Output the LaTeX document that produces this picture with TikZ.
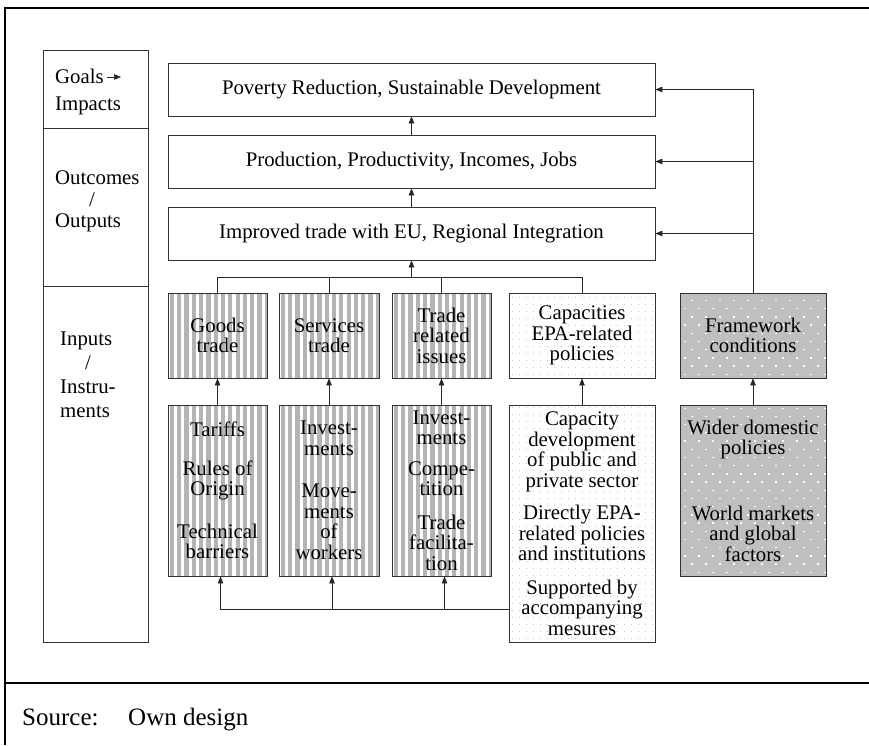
\documentclass[tikz,border=0pt]{standalone}
\usepackage{fontspec}
\setmainfont{Liberation Serif}
\usetikzlibrary{arrows.meta}

\definecolor{stripegray}{HTML}{B4B4B4}
\definecolor{framegray}{HTML}{BFBFBF}

\begin{document}
\begin{tikzpicture}[
    x=1pt, y=-1pt,
    font=\fontsize{20.8}{20.5}\selectfont,
    box/.style={
        rectangle,
        draw=black!80,
        line width=0.8pt,
        inner sep=0pt,
        align=center
    },
    level/.style={box, minimum width=487pt, minimum height=53pt},
    stripes/.style={
        path picture={
            \foreach \k in {0,...,20}
                \fill[stripegray] ([xshift=\k*7.3pt+1.8pt]path picture bounding box.south west) rectangle ++(4.2pt,400pt);
        }
    },
    lightdots/.style={
        path picture={
            \foreach \i in {0,...,21}
                \foreach \j in {0,...,34}
                    \fill[black!22] ([shift={(\i*7pt+3pt,\j*7pt+3pt)}]path picture bounding box.south west) rectangle ++(1pt,1pt);
        }
    },
    griddots/.style={
        fill=framegray,
        path picture={
            \foreach \j [evaluate=\j as \off using {mod(\j,2)*7}] in {0,...,21}
                \foreach \i in {0,...,11}
                    \fill[white] ([shift={(\i*14pt+\off pt+4pt,\j*8.2pt+3pt)}]path picture bounding box.south west) rectangle ++(1.5pt,1.5pt);
        }
    },
    label/.style={anchor=north west, align=left, inner sep=0pt},
    link/.style={draw=black!85, line width=0.7pt},
    arrow/.style={link, -{Triangle[length=7pt,width=5.5pt]}},
    frame/.style={line width=2.6pt},
    note/.style={anchor=base west, inner sep=0pt, font=\fontsize{25}{25}\selectfont}
]
\useasboundingbox (0,0) rectangle (869,745);

% outer frame
\draw[frame] (5,745) -- (5,8) -- (869,8);
\draw[frame] (5,683) -- (869,683);

% left column
\node[box, minimum width=105pt, minimum height=78pt] (goalsbox) at (95.5,89) {};
\node[box, minimum width=105pt, minimum height=158pt] (outcomesbox) at (95.5,207) {};
\node[box, minimum width=105pt, minimum height=356pt] (inputsbox) at (95.5,464) {};

\node[label] (goalslbl) at (55,69) {Goals\\[6.5pt]Impacts};
\coordinate (goalstip) at (107,77);
\draw[arrow] (goalstip) -- ++(14,0);
\node[label] (outcomeslbl) at (55,171) {Outcomes\\[1pt]\hspace*{34pt}/\\[1pt]Outputs};
\node[label] (inputslbl) at (60,331.5) {Inputs\\[3.5pt]\hspace*{25pt}/\\[3.5pt]Instru-\\[3.5pt]ments};

% goals and outcomes
\node[level] (poverty) at (411.5,89.5) {Poverty Reduction, Sustainable Development};
\node[level] (production) at (411.5,161.5) {Production, Productivity, Incomes, Jobs};
\node[level] (trade) at (411.5,233.5) {Improved trade with EU, Regional Integration};

% instruments, upper row
\node[box, stripes, minimum width=99pt, minimum height=85pt] (goods) at (217.5,335.5) {Goods\\trade};
\node[box, stripes, minimum width=100pt, minimum height=85pt] (services) at (329,335.5) {Services\\trade};
\node[box, stripes, minimum width=99pt, minimum height=85pt] (issues) at (441.5,335.5) {Trade\\related\\issues};
\node[box, lightdots, minimum width=146pt, minimum height=85pt] (capacities) at (582,335.5) {Capacities\\EPA-related\\policies};
\node[box, griddots, minimum width=146pt, minimum height=85pt] (framework) at (753,335.5) {Framework\\conditions};

% instruments, lower row
\node[box, stripes, minimum width=99pt, minimum height=171pt] (goodslow) at (217.5,490.5)
    {Tariffs\\[18pt]Rules of\\Origin\\[22pt]Technical\\barriers};
\node[box, stripes, minimum width=100pt, minimum height=171pt] (serviceslow) at (329,490.5)
    {Invest-\\ments\\[22pt]Move-\\ments\\of\\workers};
\node[box, stripes, minimum width=99pt, minimum height=171pt] (issueslow) at (441.5,490.5)
    {Invest-\\ments\\[10pt]Compe-\\tition\\[13pt]Trade\\facilita-\\tion};
\node[box, lightdots, minimum width=146pt, minimum height=237pt] (capacitieslow) at (582,523.5)
    {Capacity\\development\\of public and\\private sector\\[12pt]Directly EPA-\\related policies\\and institutions\\[13pt]Supported by\\accompanying\\mesures};
\node[box, griddots, minimum width=146pt, minimum height=171pt] (widerlow) at (753,490.5)
    {Wider domestic\\policies\\[45pt]World markets\\and global\\factors};

% vertical flow
\draw[arrow] (production.north) -- (poverty.south);
\draw[arrow] (trade.north) -- (production.south);
\coordinate (hub) at (411.5,277);
\draw[link] (goods.north) |- (capacities.north |- hub) -- (capacities.north);
\draw[link] (services.north) -- (services.north |- hub);
\draw[link] (issues.north) -- (issues.north |- hub);
\draw[arrow] (hub) -- (trade.south);

\draw[arrow] (goodslow.north) -- (goods.south);
\draw[arrow] (serviceslow.north) -- (services.south);
\draw[arrow] (issueslow.north) -- (issues.south);
\draw[arrow] (capacitieslow.north) -- (capacities.south);
\draw[arrow] (widerlow.north) -- (framework.south);

% feedback from capacity development
\coordinate (feed) at (capacitieslow.west |- 0,609);
\draw[arrow] (feed) -| ([xshift=3pt]goodslow.south);
\draw[arrow] ([xshift=3pt]serviceslow.south |- feed) -- ([xshift=3pt]serviceslow.south);
\draw[arrow] ([xshift=3pt]issueslow.south |- feed) -- ([xshift=3pt]issueslow.south);

% framework conditions
\draw[arrow] (framework.north) |- (poverty.east);
\draw[arrow] (framework.north |- production.east) -- (production.east);
\draw[arrow] (framework.north |- trade.east) -- (trade.east);

% source
\node[note] (source) at (22,725) {Source:};
\node[note] (design) at (128,725) {Own design};
\end{tikzpicture}
\end{document}
